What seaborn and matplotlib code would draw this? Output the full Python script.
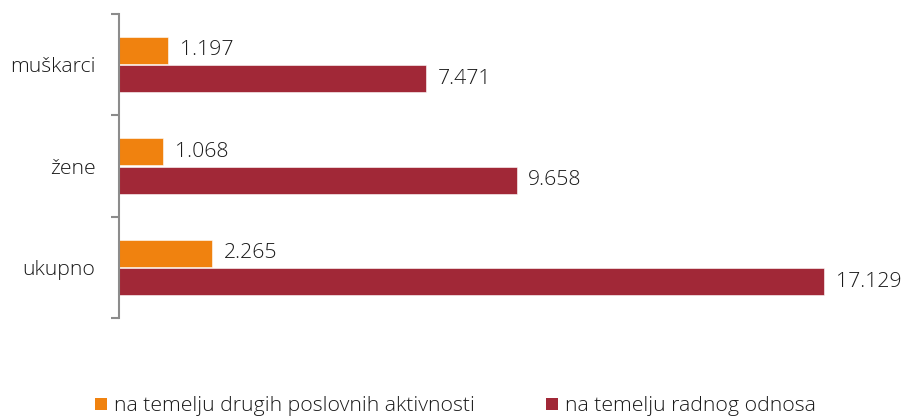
import matplotlib
matplotlib.use("Agg")
import matplotlib.pyplot as plt
import seaborn as sns
import pandas as pd
from matplotlib.lines import Line2D

categories = ["muškarci", "žene", "ukupno"]
series_names = ["na temelju drugih poslovnih aktivnosti", "na temelju radnog odnosa"]
other_activities = [1197, 1068, 2265]
employment = [7471, 9658, 17129]
colors = ["#F0820F", "#A12837"]

sns.set_theme(style="white")
plt.rcParams['font.family'] = ['Open Sans', 'DejaVu Sans']
FS = 15.3
WT = "light"
TC = "#1a1a1a"

rows = []
for c, a, b in zip(categories, other_activities, employment):
    rows.append({"kategorija": c, "serija": series_names[0], "vrijednost": a})
    rows.append({"kategorija": c, "serija": series_names[1], "vrijednost": b})
df = pd.DataFrame(rows)

fig = plt.figure(figsize=(9.04, 4.17), dpi=100)
ax = fig.add_axes([119/904, 99/417, (890-119)/904, (318-14)/417])

sns.barplot(data=df, y="kategorija", x="vrijednost", hue="serija",
            hue_order=series_names, order=categories, palette=colors,
            orient="h", width=0.56, gap=0.04, ax=ax, legend=False,
            saturation=1, edgecolor="white", linewidth=0.4)

scale = 705 / 17129
ax.set_xlim(0, (890-119) / scale)
ax.set_ylim(2.5, -0.5)

def fmt(v):
    return f"{v:,}".replace(",", ".")

for cont in ax.containers:
    ax.bar_label(cont, labels=[fmt(int(v)) for v in cont.datavalues],
                 padding=8.5, fontsize=FS, color=TC, fontweight=WT)

for s in ["top", "right", "bottom"]:
    ax.spines[s].set_visible(False)
ax.spines["left"].set_color("#8c8c8c")
ax.spines["left"].set_linewidth(1.5)

ax.set_xticks([])
ax.set_xlabel("")
ax.set_ylabel("")
ax.set_yticks([-0.5, 0.5, 1.5, 2.5])
ax.set_yticklabels([])
ax.tick_params(axis="y", which="major", length=6, width=1.5, color="#8c8c8c", left=True)
ax.set_yticks([0, 1, 2], minor=True)
ax.set_yticklabels(categories, minor=True, fontsize=FS, color=TC, fontweight=WT)
ax.tick_params(axis="y", which="minor", length=0, pad=17)

h1 = [Line2D([0], [0], marker="s", linestyle="", markersize=9, markerfacecolor=colors[0], markeredgewidth=0)]
h2 = [Line2D([0], [0], marker="s", linestyle="", markersize=9, markerfacecolor=colors[1], markeredgewidth=0)]
prop = {"size": FS, "weight": WT}
fig.legend(h1, [series_names[0]], loc="center left", bbox_to_anchor=(95/904, 11/417),
           frameon=False, prop=prop, handlelength=0.6, handletextpad=0.3, borderaxespad=0, borderpad=0)
fig.legend(h2, [series_names[1]], loc="center left", bbox_to_anchor=(546/904, 11/417),
           frameon=False, prop=prop, handlelength=0.6, handletextpad=0.3, borderaxespad=0, borderpad=0)
for t in fig.legends:
    for txt in t.get_texts():
        txt.set_color(TC)

fig.savefig("out.png", dpi=100)
